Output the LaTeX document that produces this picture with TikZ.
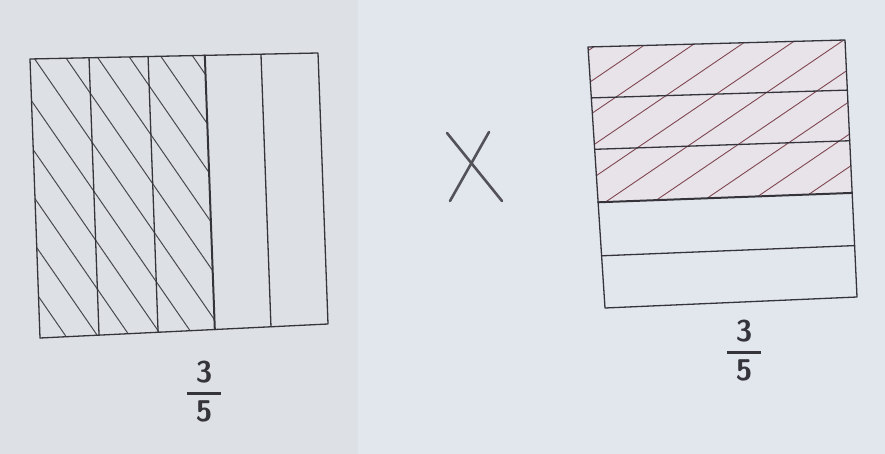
\documentclass[tikz,border=0pt]{standalone}
\usepackage{amsmath}
\usepackage{fontspec}
\usepackage{xcolor}
\usepackage{tikz}
\usetikzlibrary{calc}
\definecolor{paperleft}{RGB}{221,225,229}
\definecolor{paperright}{RGB}{226,231,237}
\definecolor{pencil}{RGB}{52,52,58}
\definecolor{redpencil}{RGB}{128,72,82}
\definecolor{pinktint}{RGB}{232,226,233}
\tikzset{
  gridline/.style={draw=pencil,line width=1.3pt,line cap=round,line join=round},
  boldline/.style={gridline,line width=2pt},
  hatchleft/.style={draw=pencil!90,line width=1pt},
  hatchright/.style={draw=redpencil,line width=0.9pt},
  crossstroke/.style={draw=pencil!85,line width=2.6pt,line cap=round},
  fraclabel/.style={text=pencil,font=\fontsize{30}{34}\selectfont\sffamily\bfseries,inner sep=0pt}
}
\newcommand{\handfrac}[2]{\(\genfrac{}{}{2.2pt}{0}{\hspace{0.3em}\textsf{#1}\hspace{0.3em}}{\hspace{0.3em}\textsf{#2}\hspace{0.3em}}\)}

\begin{document}
\begin{tikzpicture}[x=1pt,y=-1pt]
  \useasboundingbox (0,0) rectangle (885,454);
  \fill[paperleft] (0,0) rectangle (358,454);
  \fill[paperright] (358,0) rectangle (885,454);

  % left square: three fifths in columns
  \coordinate (L1) at (30,59);
  \coordinate (L2) at (318,53);
  \coordinate (L3) at (328,324);
  \coordinate (L4) at (40,338);
  \begin{scope}
    \clip (L1) -- ($(L1)!0.607!(L2)$) -- ($(L4)!0.607!(L3)$) -- (L4) -- cycle;
    \foreach \k in {-7,...,6}
      \draw[hatchleft] ({-6+32*\k},0) -- ({254+32*\k},377);
  \end{scope}
  \draw[gridline] (L1) -- (L2) -- (L3) -- (L4) -- cycle;
  \foreach \t in {0.205,0.41,0.802}
    \draw[gridline] ($(L1)!\t!(L2)$) -- ($(L4)!\t!(L3)$);
  \draw[boldline] ($(L1)!0.607!(L2)$) -- ($(L4)!0.607!(L3)$);

  % right square: three fifths in rows
  \coordinate (R1) at (588,47);
  \coordinate (R2) at (845,40);
  \coordinate (R3) at (857,297);
  \coordinate (R4) at (605,308);
  \fill[pinktint] (R1) -- (R2) -- ($(R2)!0.595!(R3)$) -- ($(R1)!0.595!(R4)$) -- cycle;
  \begin{scope}
    \clip (R1) -- (R2) -- ($(R2)!0.595!(R3)$) -- ($(R1)!0.595!(R4)$) -- cycle;
    \foreach \k in {-1,...,9}
      \draw[hatchright] ({743+48*\k},-22) -- ({293+48*\k},284);
  \end{scope}
  \draw[gridline] (R1) -- (R2) -- (R3) -- (R4) -- cycle;
  \foreach \t in {0.195,0.392,0.8}
    \draw[gridline] ($(R1)!\t!(R4)$) -- ($(R2)!\t!(R3)$);
  \draw[boldline] ($(R1)!0.595!(R4)$) -- ($(R2)!0.595!(R3)$);

  % times sign
  \coordinate (xa) at (447,133);
  \coordinate (xb) at (502,201);
  \coordinate (xc) at (489,132);
  \coordinate (xd) at (450,201);
  \draw[crossstroke] (xa) -- (xb);
  \draw[crossstroke] (xc) -- (xd);

  \node[fraclabel] (fracleft) at (204,392) {\handfrac{3}{5}};
  \node[fraclabel] (fracright) at (744,351) {\handfrac{3}{5}};
\end{tikzpicture}
\end{document}
